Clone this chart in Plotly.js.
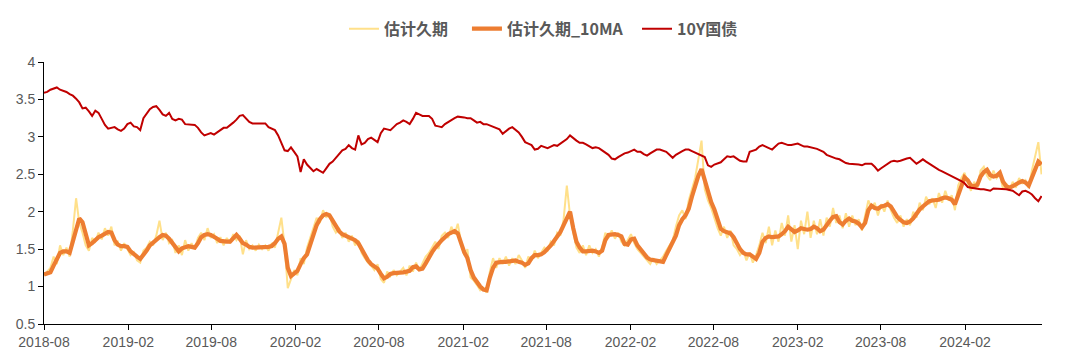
<!DOCTYPE html>
<html><head><meta charset="utf-8">
<script src="https://cdn.plot.ly/plotly-3.0.1.min.js"></script>
<style>html,body{margin:0;padding:0;background:#fff}#chart{width:1080px;height:364px}</style>
</head><body><div id="chart"></div>
<script>
// weekly observations starting 2018-08-01
const startDate = '2018-08-01';
const stepDays = 7;
const seriesNames = ['估计久期', '估计久期_10MA', '10Y国债'];

const duration = [
1.15,1.20,1.25,1.40,1.30,1.55,1.42,1.52,1.40,1.75,
2.18,1.85,1.72,1.55,1.48,1.65,1.60,1.72,1.63,1.78,
1.68,1.80,1.55,1.60,1.48,1.58,1.50,1.42,1.46,1.35,
1.32,1.48,1.52,1.60,1.55,1.68,1.88,1.62,1.72,1.58,
1.62,1.45,1.55,1.42,1.62,1.48,1.58,1.50,1.65,1.72,
1.62,1.78,1.65,1.70,1.58,1.66,1.55,1.65,1.58,1.70,
1.62,1.68,1.43,1.62,1.50,1.55,1.48,1.56,1.50,1.55,
1.48,1.58,1.52,1.70,1.92,1.55,0.98,1.10,1.22,1.15,
1.38,1.30,1.52,1.65,1.78,1.92,1.85,2.02,1.92,1.98,
1.80,1.72,1.78,1.65,1.72,1.60,1.68,1.55,1.62,1.45,
1.38,1.32,1.28,1.22,1.30,1.10,1.05,1.20,1.14,1.22,
1.15,1.20,1.25,1.15,1.28,1.20,1.32,1.22,1.30,1.40,
1.45,1.52,1.60,1.50,1.68,1.72,1.65,1.80,1.70,1.84,
1.60,1.42,1.50,1.12,1.08,1.02,0.95,0.98,0.92,1.20,
1.38,1.25,1.38,1.30,1.40,1.28,1.38,1.30,1.42,1.35,
1.25,1.40,1.35,1.48,1.38,1.45,1.52,1.48,1.60,1.55,
1.72,1.68,1.90,2.35,1.95,1.72,1.52,1.45,1.55,1.42,
1.55,1.45,1.50,1.40,1.52,1.72,1.65,1.75,1.64,1.72,
1.60,1.55,1.62,1.70,1.58,1.50,1.45,1.40,1.36,1.30,
1.38,1.30,1.35,1.40,1.48,1.55,1.62,1.80,1.95,2.02,
1.90,2.15,2.32,2.45,2.70,2.95,2.30,2.15,2.05,1.90,
1.78,1.68,1.80,1.65,1.75,1.55,1.50,1.42,1.48,1.35,
1.45,1.32,1.42,1.55,1.72,1.58,1.80,1.55,1.75,1.60,
1.85,1.68,1.95,1.60,1.82,1.50,1.88,1.70,2.00,1.65,
1.88,1.70,1.90,1.68,1.92,1.80,2.05,1.85,1.95,1.78,
1.98,1.80,1.95,1.82,1.90,1.75,1.95,2.15,2.05,2.12,
1.95,2.10,2.00,2.15,2.02,1.92,1.85,1.95,1.80,1.90,
1.82,2.00,1.92,2.12,2.02,2.20,2.10,2.18,2.05,2.25,
2.12,2.28,2.15,2.22,2.02,2.35,2.45,2.52,2.38,2.28,
2.40,2.32,2.55,2.60,2.48,2.42,2.55,2.45,2.50,2.30,
2.38,2.28,2.40,2.32,2.45,2.38,2.42,2.32,2.55,2.75,
2.93,2.50];

const durationMA = [
1.16,1.17,1.19,1.28,1.38,1.45,1.47,1.47,1.45,1.60,
1.78,1.91,1.86,1.70,1.55,1.58,1.62,1.66,1.68,1.70,
1.73,1.72,1.62,1.56,1.54,1.54,1.53,1.47,1.43,1.40,
1.37,1.42,1.48,1.55,1.59,1.62,1.66,1.69,1.68,1.64,
1.58,1.52,1.47,1.51,1.53,1.54,1.53,1.52,1.58,1.66,
1.69,1.70,1.69,1.67,1.64,1.61,1.60,1.60,1.60,1.65,
1.69,1.64,1.58,1.56,1.53,1.52,1.52,1.52,1.52,1.53,
1.53,1.54,1.58,1.64,1.67,1.57,1.25,1.14,1.18,1.21,
1.30,1.38,1.43,1.57,1.70,1.82,1.90,1.95,1.97,1.95,
1.88,1.80,1.74,1.70,1.68,1.66,1.64,1.62,1.58,1.50,
1.42,1.35,1.30,1.27,1.24,1.17,1.11,1.13,1.17,1.18,
1.18,1.18,1.19,1.20,1.21,1.26,1.27,1.23,1.24,1.31,
1.39,1.46,1.52,1.58,1.62,1.66,1.70,1.72,1.74,1.71,
1.56,1.46,1.38,1.22,1.12,1.05,1.00,0.96,0.95,1.12,
1.25,1.32,1.33,1.33,1.33,1.34,1.35,1.35,1.33,1.32,
1.29,1.31,1.38,1.42,1.42,1.43,1.46,1.50,1.55,1.61,
1.67,1.73,1.82,1.92,2.00,1.78,1.60,1.52,1.47,1.47,
1.48,1.48,1.47,1.45,1.48,1.62,1.69,1.70,1.70,1.69,
1.67,1.57,1.56,1.63,1.64,1.55,1.49,1.43,1.39,1.36,
1.35,1.34,1.33,1.33,1.42,1.50,1.58,1.68,1.82,1.90,
1.95,2.04,2.20,2.35,2.48,2.57,2.43,2.26,2.13,2.03,
1.90,1.77,1.74,1.73,1.71,1.66,1.57,1.50,1.45,1.43,
1.43,1.40,1.37,1.45,1.60,1.65,1.67,1.66,1.66,1.67,
1.70,1.74,1.80,1.77,1.73,1.75,1.78,1.77,1.76,1.77,
1.80,1.78,1.74,1.76,1.83,1.88,1.93,1.94,1.86,1.83,
1.88,1.91,1.88,1.87,1.84,1.79,1.85,2.02,2.08,2.05,
2.04,2.07,2.08,2.10,2.07,1.99,1.93,1.89,1.86,1.85,
1.87,1.91,1.98,2.03,2.07,2.10,2.14,2.15,2.15,2.16,
2.18,2.19,2.18,2.16,2.10,2.22,2.33,2.46,2.42,2.35,
2.34,2.36,2.47,2.53,2.56,2.49,2.47,2.48,2.52,2.40,
2.34,2.32,2.34,2.37,2.39,2.41,2.39,2.35,2.45,2.58,
2.67,2.63];

const cgb10y = [
3.59,3.60,3.63,3.65,3.66,3.63,3.62,3.60,3.57,3.55,
3.51,3.46,3.38,3.39,3.34,3.28,3.35,3.32,3.24,3.16,
3.11,3.12,3.13,3.10,3.08,3.11,3.17,3.19,3.14,3.13,
3.09,3.25,3.31,3.37,3.40,3.41,3.36,3.30,3.28,3.32,
3.24,3.22,3.24,3.23,3.17,3.17,3.16,3.16,3.12,3.06,
3.02,3.04,3.05,3.03,3.06,3.10,3.12,3.12,3.15,3.19,
3.23,3.28,3.29,3.24,3.20,3.18,3.18,3.18,3.17,3.18,
3.13,3.11,3.09,3.02,2.93,2.82,2.81,2.86,2.80,2.74,
2.53,2.70,2.63,2.58,2.54,2.57,2.55,2.52,2.58,2.64,
2.67,2.72,2.76,2.82,2.84,2.89,2.85,2.83,3.02,2.90,
2.92,2.97,2.99,2.96,2.93,3.05,3.11,3.10,3.09,3.13,
3.17,3.19,3.22,3.20,3.17,3.24,3.32,3.30,3.28,3.28,
3.28,3.24,3.15,3.14,3.13,3.17,3.20,3.23,3.25,3.27,
3.27,3.26,3.25,3.25,3.22,3.19,3.20,3.17,3.17,3.15,
3.14,3.12,3.10,3.04,3.08,3.11,3.13,3.10,3.06,3.00,
2.93,2.91,2.89,2.83,2.84,2.88,2.86,2.85,2.87,2.89,
2.88,2.91,2.93,2.97,3.02,2.98,2.95,2.92,2.92,2.90,
2.88,2.85,2.86,2.85,2.82,2.79,2.76,2.71,2.70,2.73,
2.76,2.78,2.79,2.81,2.83,2.80,2.80,2.77,2.75,2.78,
2.81,2.83,2.83,2.81,2.80,2.76,2.72,2.76,2.79,2.81,
2.83,2.83,2.81,2.79,2.77,2.75,2.73,2.62,2.60,2.63,
2.64,2.66,2.70,2.74,2.73,2.74,2.71,2.68,2.67,2.67,
2.80,2.82,2.83,2.87,2.89,2.87,2.85,2.83,2.87,2.91,
2.92,2.90,2.89,2.89,2.90,2.91,2.89,2.87,2.87,2.86,
2.86,2.84,2.82,2.80,2.76,2.74,2.73,2.71,2.70,2.67,
2.65,2.64,2.64,2.64,2.63,2.62,2.64,2.64,2.64,2.60,
2.55,2.58,2.61,2.63,2.67,2.68,2.67,2.68,2.70,2.71,
2.72,2.68,2.64,2.67,2.70,2.67,2.64,2.61,2.58,2.56,
2.54,2.52,2.50,2.48,2.46,2.43,2.41,2.38,2.33,2.32,
2.31,2.31,2.30,2.30,2.29,2.28,2.31,2.31,2.31,2.30,
2.30,2.29,2.28,2.25,2.22,2.27,2.28,2.26,2.23,2.18,
2.14,2.21];

const yTicks = [0.5, 1, 1.5, 2, 2.5, 3, 3.5, 4];
const yTickLabels = ['0.5', '1', '1.5', '2', '2.5', '3', '3.5', '4'];

const DAY = 86400000;
const common = {type: 'scatter', mode: 'lines', x0: startDate, dx: stepDays * DAY, hoverinfo: 'skip'};

const traces = [
  Object.assign({}, common, {name: seriesNames[0], y: duration, legend: 'legend', line: {color: '#FFE08A', width: 2}}),
  Object.assign({}, common, {name: seriesNames[1], y: durationMA, legend: 'legend2', line: {color: '#ED7D31', width: 4.2}}),
  Object.assign({}, common, {name: seriesNames[2], y: cgb10y, legend: 'legend3', line: {color: '#C00000', width: 2}})
];

const tickFont = {family: 'Liberation Sans, Arial, sans-serif', size: 14, color: '#595959'};
const legFont = {family: 'Noto Sans CJK SC, sans-serif', size: 16, color: '#595959', weight: 'bold'};
function leg(x) {
  return {orientation: 'h', x: x, xanchor: 'left', y: 1.127, yanchor: 'middle', font: legFont,
    itemwidth: 30, bgcolor: 'rgba(0,0,0,0)', borderwidth: 0};
}

const layout = {
  width: 1080, height: 364,
  margin: {l: 44, r: 38, t: 57, b: 40, pad: 0},
  paper_bgcolor: '#fff', plot_bgcolor: '#fff',
  showlegend: true,
  legend: leg(0.3006),
  legend2: leg(0.4238),
  legend3: leg(0.5942),
  xaxis: {type: 'date', range: ['2018-08-01', '2024-07-18'], tick0: '2018-08-01', dtick: 'M6',
    tickformat: '%Y-%m', ticks: 'outside', ticklen: 5, tickcolor: '#000', showline: true,
    linecolor: '#000', linewidth: 1, showgrid: false, zeroline: false, tickfont: tickFont,
    ticklabelmode: 'instant'},
  yaxis: {range: [0.5, 4], tickvals: yTicks, ticktext: yTickLabels, ticks: 'outside', ticklen: 5,
    tickcolor: '#000', showline: true, linecolor: '#000', linewidth: 1, showgrid: false,
    zeroline: false, tickfont: tickFont}
};

Plotly.newPlot('chart', traces, layout, {displayModeBar: false, staticPlot: true});
</script></body></html>
